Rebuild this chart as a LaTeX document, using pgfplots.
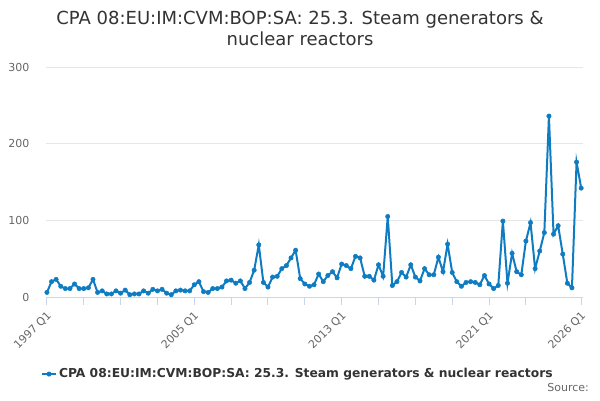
\documentclass[border=0pt]{standalone}
\usepackage{fontspec}
\setmainfont{DejaVu Sans}
\usepackage{pgfplots}
\pgfplotsset{compat=1.18}
\definecolor{lineblue}{HTML}{0F7CC2}
\definecolor{gridgray}{HTML}{E6E6E6}
\definecolor{axisblue}{HTML}{CCD6EB}
\definecolor{labgray}{HTML}{666666}
\definecolor{titlegray}{HTML}{333333}
\begin{document}
\begin{tikzpicture}[x=1bp,y=1bp]
\path[use as bounding box] (0,0) rectangle (600,400);
\begin{axis}[
  at={(46bp,103bp)}, anchor=south west,
  scale only axis, width=537bp, height=230bp,
  xmin=-0.2, xmax=116.4, ymin=0, ymax=300,
  axis x line*=bottom, axis y line*=left,
  x axis line style={draw=axisblue, line width=1bp},
  y axis line style={draw=none},
  ytick={0,100,200,300},
  ymajorgrids, grid style={draw=gridgray, line width=1bp},
  ytick style={draw=none},
  xtick={0,32,64,96,116},
  xticklabels={1997 Q1,2005 Q1,2013 Q1,2021 Q1,2026 Q1},
  extra x ticks={8,16,24,40,48,56,72,80,88,104},
  extra x tick labels={},
  extra x tick style={grid=none, xtick style={draw=axisblue, line width=1bp}},
  xtick style={draw=axisblue, line width=1bp},
  tick align=outside, major tick length=8bp,
  /pgf/number format/assume math mode=true,
  ticklabel style={font=\fontsize{11bp}{13bp}\selectfont, text=labgray},
  xticklabel style={rotate=45, anchor=east, xshift=-1bp, yshift=-8bp},
  yticklabel style={xshift=-5bp},
  legend style={at={(0.469,-0.335)}, anchor=center, draw=none, fill=none,
    font=\bfseries\fontsize{12.3bp}{14bp}\selectfont, text=titlegray},
  legend image code/.code={\draw[#1,mark repeat=2,mark phase=2] plot coordinates {(0bp,0bp) (7bp,0bp) (14bp,0bp)};},
  clip=false,
]
\addplot[color=lineblue, line width=2bp, mark=*, mark size=2.2bp, mark options={fill=lineblue, draw=lineblue, line width=0.5bp}] coordinates {
(0,6) (1,20) (2,23) (3,14) (4,11) (5,11) (6,17) (7,11) (8,11) (9,12)
(10,23) (11,6) (12,8) (13,4) (14,4) (15,8) (16,5) (17,9) (18,3) (19,4)
(20,4) (21,8) (22,5) (23,10) (24,8) (25,10) (26,5) (27,3) (28,8) (29,9)
(30,8) (31,8) (32,16) (33,20) (34,7) (35,6) (36,11) (37,11) (38,13) (39,21)
(40,22) (41,18) (42,21) (43,11) (44,19) (45,35) (46,68) (47,19) (48,13) (49,26)
(50,27) (51,37) (52,41) (53,51) (54,61) (55,24) (56,17) (57,14) (58,16) (59,30)
(60,20) (61,28) (62,33) (63,25) (64,43) (65,41) (66,37) (67,53) (68,51) (69,27)
(70,27) (71,22) (72,42) (73,27) (74,105) (75,15) (76,20) (77,32) (78,26) (79,42)
(80,26) (81,21) (82,37) (83,29) (84,29) (85,52) (86,33) (87,69) (88,32) (89,20)
(90,14) (91,19) (92,20) (93,19) (94,16) (95,28) (96,17) (97,11) (98,15) (99,99)
(100,18) (101,57) (102,33) (103,29) (104,73) (105,97) (106,37) (107,60) (108,84) (109,236)
(110,82) (111,93) (112,56) (113,18) (114,12) (115,176) (116,142)
};
\addlegendentry{CPA 08:EU:IM:CVM:BOP:SA: 25.3. Steam generators \& nuclear reactors}
\end{axis}
\node[anchor=base, text=titlegray, font=\fontsize{18bp}{22bp}\selectfont] at (300,376) {CPA 08:EU:IM:CVM:BOP:SA: 25.3. Steam generators \&};
\node[anchor=base, text=titlegray, font=\fontsize{18bp}{22bp}\selectfont] at (300,355) {nuclear reactors};
\node[anchor=base east, text=labgray, font=\fontsize{11bp}{13bp}\selectfont, inner sep=0pt] at (589,9) {Source:};
\end{tikzpicture}
\end{document}
